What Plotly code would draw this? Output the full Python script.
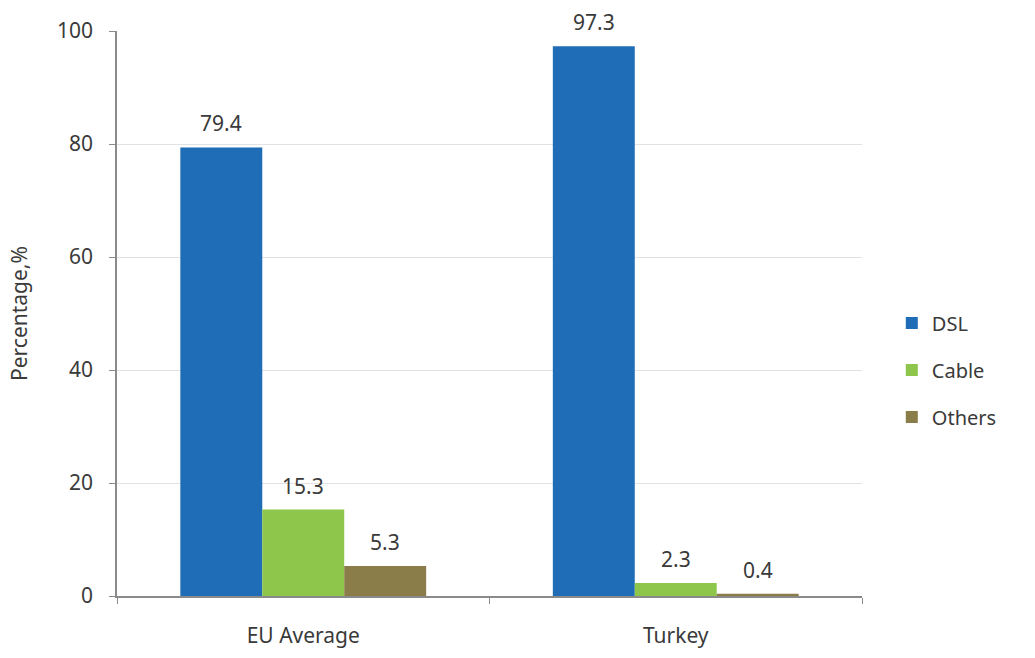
import plotly.graph_objects as go

# Broadband technology shares by region (%)
regions = ["EU Average", "Turkey"]
dsl = [79.4, 97.3]
cable = [15.3, 2.3]
others = [5.3, 0.4]

series = [
    ("DSL", dsl, "#1f6db7"),
    ("Cable", cable, "#8dc64b"),
    ("Others", others, "#8b7d4a"),
]

font_family = "Noto Sans, Open Sans, sans-serif"
text_color = "#3a3a3a"
bar_px = 82  # pixel width of a single bar within a group

fig = go.Figure()
for i, (name, vals, color) in enumerate(series):
    fig.add_trace(go.Bar(
        name=name,
        x=regions,
        y=vals,
        marker=dict(color=color, line=dict(width=0)),
        legendgroup=name,
    ))
    # value labels floating above each bar
    for region, v in zip(regions, vals):
        fig.add_annotation(
            x=region, y=v, text=f"{v:.1f}",
            xref="x", yref="y",
            xshift=(i - 1) * bar_px, yshift=24,
            yanchor="middle", xanchor="center",
            showarrow=False,
            font=dict(size=21, color=text_color, family=font_family),
        )

fig.update_layout(
    width=1035,
    height=658,
    margin=dict(l=117, r=173, t=31, b=62),
    paper_bgcolor="white",
    plot_bgcolor="white",
    barmode="group",
    bargap=0.34,
    bargroupgap=0,
    font=dict(family=font_family, size=21, color=text_color),
    showlegend=True,
    legend=dict(
        x=1.04, y=0.40, xanchor="left", yanchor="middle",
        font=dict(size=20, color=text_color),
        tracegroupgap=18,
        traceorder="grouped",
    ),
    xaxis=dict(
        automargin=False,
        showline=True, linecolor="#8a8a8a", linewidth=1.5,
        ticks="outside", tickson="boundaries", ticklen=6, tickcolor="#8a8a8a",
        ticklabelstandoff=20,
        showgrid=False,
    ),
    yaxis=dict(
        automargin=False,
        range=[0, 100],
        tickvals=[0, 20, 40, 60, 80, 100],
        showline=True, linecolor="#8a8a8a", linewidth=1.5,
        ticks="outside", ticklen=6, tickcolor="#8a8a8a",
        ticklabelstandoff=12,
        showgrid=True, gridcolor="#e2e2e2", gridwidth=1,
        zeroline=False,
        title=dict(text="Percentage,%", standoff=24, font=dict(size=21)),
    ),
)

fig.write_html("out.html")
